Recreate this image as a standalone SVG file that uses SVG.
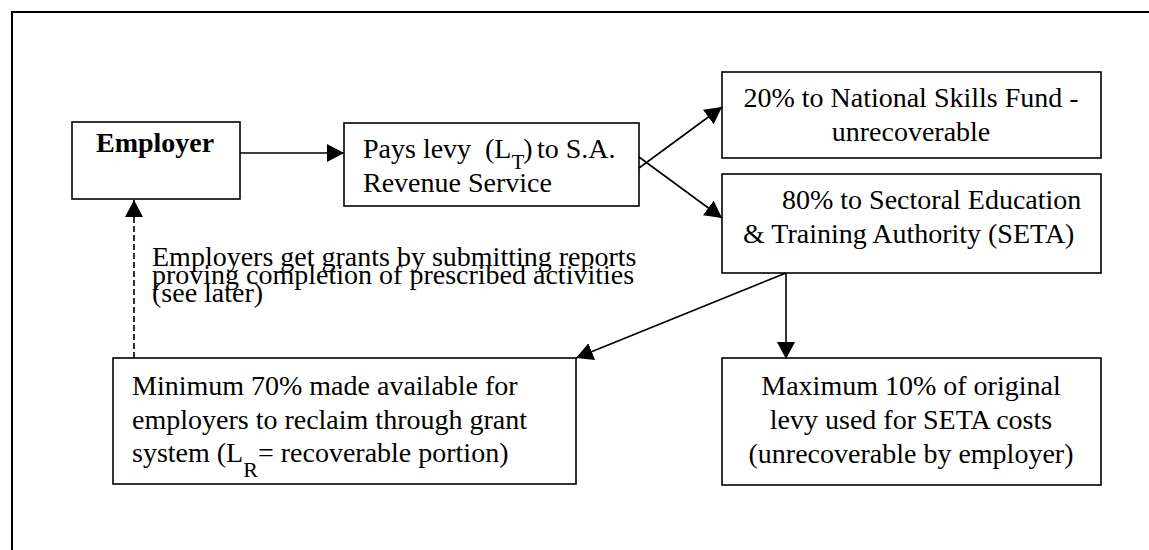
<svg xmlns="http://www.w3.org/2000/svg" width="1149" height="550" viewBox="0 0 1149 550">
<style>
.box{fill:#fff;stroke:#000;stroke-width:1.6}
.t{font-family:"Liberation Serif","Times New Roman",serif;font-size:28px;fill:#000}
.c{text-anchor:middle}
.b{font-weight:bold}
.ln{fill:none;stroke:#000;stroke-width:1.6}
</style>
<defs>
<marker id="ah" markerUnits="userSpaceOnUse" markerWidth="18" markerHeight="18" refX="17" refY="9" orient="auto">
<path d="M0,0 L17,9 L0,18 Z" fill="#000"/>
</marker>
</defs>
<rect width="1149" height="550" fill="#fff"/>
<path d="M12,551 V12 H1150" fill="none" stroke="#000" stroke-width="2"/>

<g id="employer">
<rect class="box" x="72" y="122" width="168" height="77"/>
<text class="t b" x="96" y="152">Employer</text>
</g>
<g id="sars">
<rect class="box" x="344" y="123" width="295" height="83"/>
<text class="t" y="158"><tspan x="363">Pays levy</tspan><tspan x="485">(L</tspan><tspan dy="11" font-size="21">T</tspan><tspan dy="-11" dx="-1">)</tspan><tspan x="537">to S.A.</tspan></text>
<text class="t" x="363" y="192">Revenue Service</text>
</g>
<g id="nsf">
<rect class="box" x="722" y="72" width="379" height="86"/>
<text class="t c" x="911" y="107">20% to National Skills Fund -</text>
<text class="t c" x="911" y="141">unrecoverable</text>
</g>
<g id="seta">
<rect class="box" x="722" y="174" width="379" height="99"/>
<text class="t" x="782" y="209">80% to Sectoral Education</text>
<text class="t" x="743" y="243">&amp; Training Authority (SETA)</text>
</g>
<g id="minimum">
<rect class="box" x="113" y="358" width="463" height="126"/>
<text class="t" x="132" y="395">Minimum 70% made available for</text>
<text class="t" x="132" y="429">employers to reclaim through grant</text>
<text class="t" x="132" y="462">system (L<tspan dy="15" font-size="22">R</tspan><tspan dy="-15">= recoverable portion)</tspan></text>
</g>
<g id="maximum">
<rect class="box" x="722" y="358" width="379" height="127"/>
<text class="t c" x="911" y="395">Maximum 10% of original</text>
<text class="t c" x="911" y="429">levy used for SETA costs</text>
<text class="t c" x="911" y="463">(unrecoverable by employer)</text>
</g>
<g id="note">
<text class="t" x="152" y="266">Employers get grants by submitting reports</text>
<text class="t" x="152" y="284">proving completion of prescribed activities</text>
<text class="t" x="152" y="302">(see later)</text>
</g>

<g id="connectors">
<line class="ln" x1="240" y1="153" x2="344" y2="153" marker-end="url(#ah)"/>
<line class="ln" x1="639" y1="168" x2="722" y2="107" marker-end="url(#ah)"/>
<line class="ln" x1="639" y1="157" x2="722" y2="218" marker-end="url(#ah)"/>
<line class="ln" x1="786" y1="273" x2="576" y2="358" marker-end="url(#ah)"/>
<line class="ln" x1="786" y1="273" x2="786" y2="359" marker-end="url(#ah)"/>
<line class="ln" x1="134" y1="358" x2="134" y2="200" stroke-dasharray="6,3" marker-end="url(#ah)"/>
</g>
</svg>
